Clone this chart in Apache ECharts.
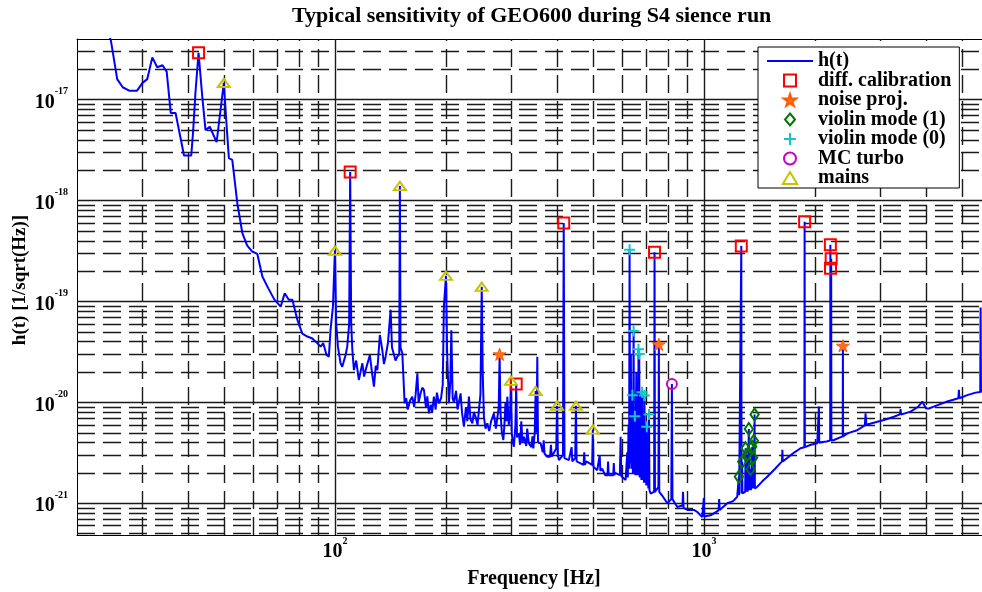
<!DOCTYPE html>
<html>
<head>
<meta charset="utf-8">
<script src="https://cdn.jsdelivr.net/npm/echarts@6/dist/echarts.min.js"></script>
<style>html,body{margin:0;padding:0;background:#fff}#chart{width:982px;height:592px}</style>
</head>
<body>
<div id="chart"></div>
<script>
// ---------- axis ranges / tick labels ----------
const X_MIN = 20, X_MAX = 6000;
const Y_MIN = 4.85e-22, Y_MAX = 4e-17;
const xDecades = [10, 100, 1000];
const yDecades = [1e-22, 1e-21, 1e-20, 1e-19, 1e-18, 1e-17];
const minorSteps = [2, 3, 4, 5, 6, 7, 8, 9];

// ---------- h(t) spectrum, [frequency Hz, strain 1/sqrt(Hz)] ----------
const bandLow = [
 [23.5,6.0e-17],[24.7,3.9e-17],[25.7,1.6e-17],[26.6,1.33e-17],[27.7,1.23e-17],[29.1,1.23e-17],
 [30.1,1.47e-17],[31.0,1.6e-17],[32.0,2.63e-17],[33.0,2.1e-17],[34.1,2.2e-17],[35.0,1.9e-17],
 [35.9,7.4e-18],[37.0,7.4e-18],[39.0,2.8e-18],[40.8,2.8e-18],[41.3,5.0e-18],[41.9,1.2e-17],
 [42.7,2.92e-17],[43.7,1.08e-17],[44.6,5.0e-18],[45.8,5.4e-18],[47.8,3.8e-18],[49.0,8.0e-18],
 [50.0,1.47e-17],[50.8,6.0e-18],[51.6,2.64e-18],[52.7,2.54e-18],[54.4,9.4e-19],[56.1,4.8e-19],
 [57.8,3.6e-19],[59.7,3.13e-19],[61.6,2.97e-19],[63.6,1.77e-19],[66.0,1.35e-19],[68.5,1.05e-19],
 [71.3,8.9e-20],[73.1,1.21e-19],[75.0,1.04e-19],[76.7,1.04e-19],[79.1,6.6e-20],[81.6,4.8e-20],
 [84.2,4.5e-20],[86.9,4.3e-20],[88.7,4.0e-20],[91.5,3.57e-20],[93.0,3.86e-20],[94.9,2.95e-20],
 [96.3,2.84e-20],[97.3,5.2e-20],[98.8,9.0e-20]
];
const bandMid = [
 [100.0,3.2e-19],[100.8,6.0e-20],[101.9,3.57e-20],[103.6,2.44e-20],[104.7,2.26e-20],[106.9,2.95e-20],
 [108.0,3.57e-20],[109.3,6.0e-20],[110.0,1.92e-18],[110.7,6.0e-20],[111.5,3.31e-20],[112.6,2.09e-20],
 [114.2,2.6e-20],[116.1,1.67e-20],[118.7,2.44e-20],[120.0,1.8e-20],[121.1,2.09e-20],[124.4,2.95e-20],
 [126.0,2.0e-20],[127.6,1.43e-20],[129.0,2.3e-20],[130.3,2.09e-20],[132.4,4.66e-20],[134.4,3.31e-20],
 [135.8,2.4e-20],[137.2,2.84e-20],[139.2,3.86e-20],[141.6,8.3e-20],[142.8,3.5e-20],[144.5,3.57e-20],
 [146.0,2.6e-20],[147.6,2.84e-20],[149.4,3.0e-20],[150.0,1.40e-18],[150.6,3.5e-20],[152.3,3.07e-20],
 [154.5,9.8e-21],[156.0,1.1e-20],[157.5,8.5e-21],[158.7,9.4e-21],[160.0,1.05e-20],[162.1,1.14e-20],
 [164.0,9.0e-21],[165.5,1.2e-20],[167.3,1.94e-20],[168.6,1.0e-20],[170.7,1.23e-20],[172.5,1.4e-20],
 [174.3,1.33e-20],[176.5,9.0e-21],[178.0,1.15e-20],[179.8,7.8e-21],[182.0,9.5e-21],[183.5,8.0e-21],
 [185.5,1.14e-20],[187.5,8.5e-21],[189.0,1.25e-20],[191.3,9.8e-21],[194.0,1.1e-20],[196.0,1.5e-20],
 [197.4,8.9e-20],[200.0,1.80e-19],[201.5,3.0e-20],[203.7,9.8e-21],[205.5,1.6e-20],[206.8,5.2e-20],
 [208.5,1.1e-20],[210.2,1.0e-20],[213.0,1.3e-20],[215.0,8.5e-21],[219.1,1.23e-20],[221.0,8.0e-21],
 [223.7,5.74e-21],[226.5,9.0e-21],[228.5,6.5e-21],[230.8,1.14e-20],[233.0,6.8e-21],[235.8,6.2e-21],
 [238.0,8.0e-21],[240.6,7.2e-21],[243.5,6.0e-21],[248.0,1.2e-20],[250.0,1.40e-19],[251.5,2.0e-20],
 [253.4,7.2e-21],[256.0,5.5e-21],[258.8,6.2e-21],[262.0,5.2e-21],[265.0,6.5e-21],[269.7,7.8e-21],
 [273.0,5.5e-21],[275.5,7.0e-21],[278.0,9.0e-21],[279.5,3.0e-20],[281.0,8.0e-21],[283.5,5.0e-21],
 [286.1,4.24e-21],[288.0,6.0e-21],[290.0,1.0e-20],[291.6,6.5e-21],[293.3,1.14e-20],[296.0,6.0e-21],
 [298.5,8.0e-21],[300.0,1.64e-20],[301.5,5.0e-21],[303.5,4.0e-21],[305.6,3.64e-21],[308.5,6.0e-21],
 [310.0,1.52e-20],[311.5,4.5e-21],[315.2,4.93e-21],[317.5,3.8e-21],[320.0,6.5e-21],[322.5,4.0e-21],
 [325.2,4.57e-21],[330.0,3.7e-21],[332.0,5.5e-21],[335.5,3.93e-21],[341.0,3.6e-21],[343.0,4.6e-21],
 [345.0,3.5e-21],[348.0,5.0e-21],[350.0,1.30e-20],[352.0,5.0e-21],[353.6,2.84e-20],[355.2,4.0e-21],
 [361.0,3.93e-21],[366.0,3.2e-21],[368.0,4.2e-21],[370.0,3.1e-21],[376.4,2.89e-21],[383.0,2.9e-21],
 [385.0,3.8e-21],[387.0,2.9e-21],[398.0,3.5e-21],[400.0,9.27e-21],[402.0,3.0e-21],[404.6,2.68e-21],
 [415.0,3.0e-21],[417.0,6.0e-19],[419.0,2.8e-21],[430.6,2.68e-21],[436.0,2.6e-21],[438.0,3.6e-21],
 [440.0,2.6e-21],[448.0,2.8e-21],[450.0,9.27e-21],[452.0,2.6e-21],[463.4,2.49e-21],[472.0,2.4e-21],
 [474.0,3.2e-21],[476.0,2.4e-21],[480.0,2.6e-21],[498.0,2.4e-21],[500.0,5.4e-21],[502.0,2.3e-21],
 [514.1,2.13e-21],[520.0,2.1e-21],[522.0,3.0e-21],[524.0,2.1e-21],[530.0,2.2e-21],[540.0,1.9e-21],
 [548.0,1.9e-21],[550.0,2.6e-21],[552.0,1.9e-21],[558.6,1.83e-21],[568.0,1.9e-21],[570.0,2.5e-21],
 [572.0,1.9e-21],[575.0,2.0e-21],[592.0,1.9e-21],[594.7,4.57e-21],[597.5,1.85e-21]
];
const bandViolin0 = [
 [613.5,1.7e-21],[618,1.7e-21],[620,3.2e-21],[622,1.8e-21],[625,6.0e-21],[627,2.2e-21],
 [629,3.25e-19],[631,2.5e-21],[634,3.0e-20],[636,2.2e-21],[640,1.18e-20],[642,2.0e-21],
 [645,5.1e-20],[647,2.0e-21],[650,7.3e-21],[652,1.9e-21],[656,2.0e-20],[659,1.9e-21],
 [662,9.0e-21],[663.5,1.9e-21],[665,3.36e-20],[666.5,1.9e-21],[668,3.02e-20],[670,1.8e-21],
 [674,1.2e-20],[677,1.7e-21],[680,1.26e-20],[683,1.7e-21],[686,6.0e-21],[688,1.6e-21],
 [690,1.17e-20],[693,1.6e-21],[696,6.0e-21],[698,1.5e-21],[700,5.74e-21],[702,1.5e-21],
 [705,4.0e-21],[707,1.4e-21],[710,7.6e-21],[712,1.35e-21],[717,1.25e-21],[733,1.3e-21],
 [735,3.08e-19],[737,1.3e-21],[753,1.45e-21],[755,3.77e-20],[757,1.3e-21],[770,1.2e-21],
 [796,1.0e-21],[816,1.1e-21],[819,1.52e-20],[822,1.1e-21],[847,9.2e-22],[875,9.5e-22],
 [878,1.3e-21],[881,9.0e-22],[902,8.6e-22],[940,8.6e-22],[960,8.2e-22],[990,7.3e-22],[998,7.5e-22]
];
const bandHigh = [
 [1000,1.13e-21],[1002,7.4e-22],[1043,7.6e-22],[1096,8.5e-22],[1100,1.1e-21],[1104,8.6e-22],
 [1157,1.0e-21],[1200,1.05e-21],[1231,1.16e-21],[1242,1.2e-21],[1244,1.83e-21],[1246,1.2e-21],
 [1261,1.25e-21],[1263,3.56e-19],[1265,1.25e-21],[1268,1.25e-21],[1270,2.58e-21],[1272,1.25e-21],
 [1294,1.3e-21],[1297,3.51e-21],[1300,1.3e-21],[1308,1.3e-21],[1311,3.05e-21],[1314,1.3e-21],
 [1321,1.35e-21],[1324,5.45e-21],[1327,1.35e-21],[1335,1.35e-21],[1338,2.18e-21],[1341,1.35e-21],
 [1349,1.4e-21],[1352,3.64e-21],[1355,1.4e-21],[1357,1.4e-21],[1360,2.83e-21],[1362,1.4e-21],
 [1364,1.4e-21],[1366,4.17e-21],[1368,1.4e-21],[1370,1.4e-21],[1372,7.6e-21],[1375,1.4e-21],
 [1395,1.46e-21],[1440,1.65e-21],[1485,1.83e-21],[1560,2.2e-21],[1628,2.6e-21],[1632,3.4e-21],
 [1636,2.6e-21],[1700,2.9e-21],[1760,3.2e-21],[1828,3.51e-21],[1872,3.6e-21],[1875,6.17e-19],
 [1878,3.6e-21],[1950,3.8e-21],[2029,3.93e-21],[2046,4.0e-21],[2050,9.1e-21],[2054,4.0e-21],
 [2150,4.1e-21],[2199,4.2e-21],[2202,3.65e-19],[2205,4.2e-21],[2210,4.2e-21],[2213,2.65e-19],
 [2216,4.2e-21],[2251,4.24e-21],[2378,4.6e-21],[2381,3.65e-20],[2384,4.6e-21],[2447,4.93e-21],
 [2604,5.3e-21],[2730,5.9e-21],[2743,7.8e-21],[2756,6.0e-21],[3075,6.7e-21],[3273,7.2e-21],
 [3400,7.6e-21],[3412,8.6e-21],[3424,7.6e-21],[3633,8.1e-21],[3800,9.0e-21],[3908,1.02e-20],
 [4000,8.7e-21],[4072,8.7e-21],[4300,9.4e-21],[4566,1.02e-20],[4895,1.1e-20],[4911,1.33e-20],
 [4927,1.1e-20],[5173,1.18e-20],[5450,1.25e-20],[5610,1.27e-20],[5623,8.7e-20],[5636,1.28e-20],
 [6000,1.35e-20]
];

// ---------- marked lines ----------
const calibF = [42.7, 110, 417, 735, 310, 1263, 1875, 2202, 2213, 2204];
const calibH = [2.92e-17, 1.92e-18, 6.0e-19, 3.08e-19, 1.52e-20, 3.56e-19, 6.17e-19, 3.65e-19, 2.65e-19, 2.14e-19];
const noiseF = [279.5, 755, 2381];
const noiseH = [3.0e-20, 3.77e-20, 3.65e-20];
const violin1F = [1244, 1270, 1297, 1311, 1324, 1338, 1352, 1360, 1366, 1372];
const violin1H = [1.83e-21, 2.58e-21, 3.51e-21, 3.05e-21, 5.45e-21, 2.18e-21, 3.64e-21, 2.83e-21, 4.17e-21, 7.6e-21];
const violin0F = [629, 645, 665, 668, 680, 640, 690, 650, 710, 700];
const violin0H = [3.25e-19, 5.1e-20, 3.36e-20, 3.02e-20, 1.26e-20, 1.18e-20, 1.17e-20, 7.3e-21, 7.6e-21, 5.74e-21];
const mcTurboF = [819];
const mcTurboH = [1.52e-20];
const mainsF = [50, 100, 150, 200, 250, 300, 350, 400, 450, 500];
const mainsH = [1.47e-17, 3.2e-19, 1.40e-18, 1.8e-19, 1.4e-19, 1.64e-20, 1.3e-20, 9.27e-21, 9.27e-21, 5.4e-21];

// ---------- build ----------
const FONT = 'Liberation Serif';
const spectrum = bandLow.concat(bandMid, bandViolin0, bandHigh);
const zip = (a, b) => a.map((v, i) => [v, b[i]]);

const inX = v => v > X_MIN * 1.0001 && v < X_MAX * 0.9999;
const inY = v => v > Y_MIN * 1.0001 && v < Y_MAX * 0.9999;
const minorX = xDecades.flatMap(d => minorSteps.map(m => m * d)).filter(inX);
const minorY = yDecades.flatMap(d => minorSteps.map(m => m * d)).filter(inY);
const majorX = xDecades.filter(inX);
const majorY = yDecades.filter(inY);
const solid = { type: 'solid', color: '#1a1a1a', width: 1.4 };
const gridLines = [].concat(
  minorX.map(v => ({ xAxis: v })),
  minorY.map(v => ({ yAxis: v })),
  majorX.map(v => ({ xAxis: v, lineStyle: solid })),
  majorY.map(v => ({ yAxis: v, lineStyle: solid }))
);

function powLabel(v) {
  const e = Math.log10(v), r = Math.round(e);
  if (Math.abs(e - r) > 1e-6) return '';
  return '{b|10}{s|' + r + '}';
}
const labelRich = {
  b: { fontFamily: FONT, fontWeight: 'bold', fontSize: 20, lineHeight: 26, verticalAlign: 'bottom', color: '#000' },
  s: { fontFamily: FONT, fontWeight: 'bold', fontSize: 10, lineHeight: 11, verticalAlign: 'top', color: '#000' }
};

const P_SQUARE = 'path://M0,0H10V10H0Z';
const P_STAR = 'path://M50,0L61,35L98,35L68,57L79,91L50,70L21,91L32,57L2,35L39,35Z';
const P_DIAMOND = 'path://M5,0L10,6L5,12L0,6Z';
const P_PLUS = 'path://M5,0V10M0,5H10';
const P_TRI = 'path://M6,0L12,10L0,10Z';
const P_LINE = 'path://M0,0H46V2H0Z';
const clear = 'rgba(0,0,0,0)';

function markers(name, f, h, symbol, size, fill, stroke, bw) {
  return {
    name, type: 'scatter', data: zip(f, h), symbol, symbolSize: size, symbolKeepAspect: true,
    itemStyle: { color: fill, borderColor: stroke, borderWidth: bw, opacity: 1 },
    z: 3, animation: false, silent: true
  };
}

const chart = echarts.init(document.getElementById('chart'), null, { renderer: 'canvas' });
chart.setOption({
  backgroundColor: '#fff',
  animation: false,
  title: {
    text: 'Typical sensitivity of GEO600 during S4 sience run',
    left: 292, top: 5, padding: 0,
    textStyle: { fontFamily: FONT, fontWeight: 'bold', fontSize: 22, color: '#000' }
  },
  grid: { left: 77, right: -9, top: 39, bottom: 57, containLabel: false, outerBoundsMode: 'none' },
  legend: {
    orient: 'vertical', left: 758, top: 47, z: 20,
    padding: [4, 8, 0, 9], itemGap: -0.5, itemWidth: 46, itemHeight: 12,
    backgroundColor: '#fff', borderColor: '#000', borderWidth: 1, borderRadius: 0,
    selectedMode: false, symbolKeepAspect: true,
    textStyle: { fontFamily: FONT, fontWeight: 'bold', fontSize: 20, color: '#000' },
    data: [
      { name: 'h(t)', icon: P_LINE, itemStyle: { color: '#0000ff', borderWidth: 0 } },
      'diff. calibration', 'noise proj.', 'violin mode (1)', 'violin mode (0)', 'MC turbo', 'mains'
    ]
  },
  xAxis: [{
    type: 'log', logBase: 10, min: X_MIN, max: X_MAX, splitNumber: 2,
    name: 'Frequency [Hz]', nameLocation: 'middle', nameGap: 34, nameMoveOverlap: false,
    nameTextStyle: { fontFamily: FONT, fontWeight: 'bold', fontSize: 20, color: '#000' },
    axisLine: { show: true, lineStyle: { color: '#000', width: 1 } },
    axisTick: { show: false }, splitLine: { show: false }, minorTick: { show: false },
    axisLabel: { formatter: powLabel, rich: labelRich, margin: 1, showMinLabel: false, showMaxLabel: false }
  }, {
    type: 'log', logBase: 10, min: X_MIN, max: X_MAX, position: 'top',
    axisLine: { show: true, lineStyle: { color: '#000', width: 1 } },
    axisTick: { show: false }, splitLine: { show: false }, axisLabel: { show: false }
  }],
  yAxis: {
    type: 'log', logBase: 10, min: Y_MIN, max: Y_MAX,
    name: 'h(t) [1/sqrt(Hz)]', nameLocation: 'middle', nameGap: 47, nameMoveOverlap: false,
    nameTextStyle: { fontFamily: FONT, fontWeight: 'bold', fontSize: 19, color: '#000', padding: [0, 0, 0, 14] },
    axisLine: { show: true, lineStyle: { color: '#000', width: 1 } },
    axisTick: { show: false }, splitLine: { show: false }, minorTick: { show: false },
    axisLabel: { formatter: powLabel, rich: labelRich, margin: 9, showMinLabel: false, showMaxLabel: false }
  },
  series: [
    {
      name: 'gridlines', type: 'line', data: [], silent: true, animation: false,
      markLine: {
        silent: true, animation: false, z: 1, precision: -1, symbol: ['none', 'none'], label: { show: false },
        lineStyle: { color: '#1a1a1a', width: 1.4, type: [18, 8] },
        emphasis: { disabled: true },
        data: gridLines
      }
    },
    {
      name: 'h(t)', type: 'line', data: spectrum, symbol: 'none', showSymbol: false, clip: true,
      lineStyle: { color: '#0000ff', width: 2 }, itemStyle: { color: '#0000ff' },
      z: 2, animation: false, silent: true
    },
    markers('diff. calibration', calibF, calibH, P_SQUARE, 11, clear, '#ff0000', 2),
    markers('noise proj.', noiseF, noiseH, P_STAR, 13, '#ff7020', '#ff5a00', 1),
    markers('violin mode (1)', violin1F, violin1H, P_DIAMOND, [10, 12], clear, '#007800', 2),
    markers('violin mode (0)', violin0F, violin0H, P_PLUS, 11, clear, '#10c8c8', 2),
    markers('MC turbo', mcTurboF, mcTurboH, 'circle', 10, clear, '#cc00cc', 2),
    markers('mains', mainsF, mainsH, P_TRI, [12, 10], clear, '#c8c200', 2)
  ]
});
</script>
</body>
</html>
